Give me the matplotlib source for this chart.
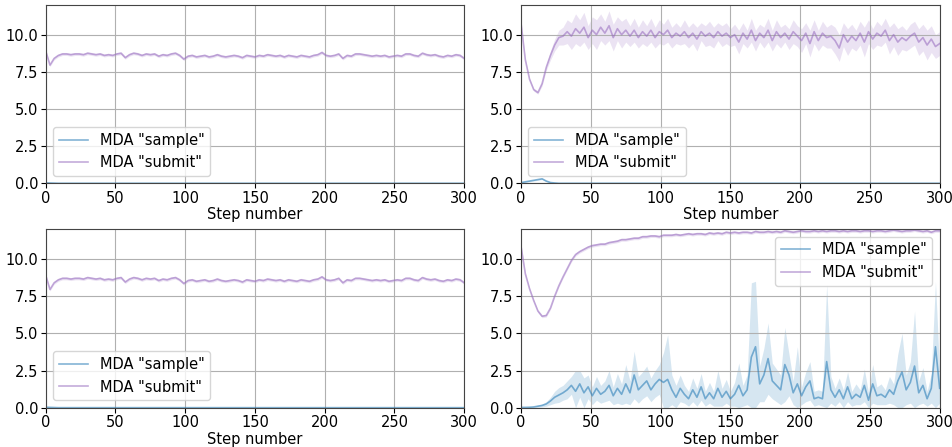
import matplotlib.pyplot as plt
import numpy as np

# values read every 3 steps (0, 3, ..., 300)
flat_submit = [8.9, 7.95, 8.4, 8.6, 8.7, 8.7, 8.65, 8.7, 8.7, 8.65, 8.75, 8.7, 8.65, 8.7, 8.6, 8.65, 8.6, 8.7, 8.75, 8.45,
               8.65, 8.75, 8.7, 8.6, 8.7, 8.65, 8.7, 8.55, 8.65, 8.6, 8.7, 8.75, 8.6, 8.35, 8.55, 8.6, 8.5, 8.55, 8.6, 8.5,
               8.55, 8.65, 8.55, 8.5, 8.55, 8.6, 8.55, 8.45, 8.6, 8.55, 8.5, 8.6, 8.55, 8.65, 8.6, 8.55, 8.6, 8.5, 8.6, 8.55,
               8.5, 8.6, 8.55, 8.5, 8.6, 8.65, 8.8, 8.6, 8.55, 8.6, 8.7, 8.4, 8.6, 8.55, 8.7, 8.7, 8.65, 8.6, 8.55, 8.6,
               8.55, 8.6, 8.5, 8.55, 8.6, 8.55, 8.7, 8.7, 8.6, 8.55, 8.75, 8.65, 8.6, 8.65, 8.55, 8.5, 8.6, 8.55, 8.65, 8.6,
               8.4]
flat_submit_spread = 0.1
flat_sample = [0.03, 0.02, 0.01] + [0.0] * 98

dip_submit = [10.7, 8.3, 7.0, 6.3, 6.1, 6.7, 7.8, 8.6, 9.3, 9.8, 9.9, 10.2, 9.9, 10.4, 10.1, 10.5, 9.8, 10.3, 10.0, 10.5,
              10.1, 10.6, 9.8, 10.4, 10.0, 10.3, 9.9, 10.3, 9.8, 10.2, 9.9, 10.3, 9.8, 10.2, 10.0, 10.3, 9.8, 10.1, 9.9, 10.2,
              9.8, 10.1, 9.7, 10.2, 9.9, 10.1, 9.8, 10.2, 9.9, 10.1, 9.8, 10.0, 9.5, 10.1, 9.7, 10.3, 9.6, 10.1, 9.8, 10.3,
              9.6, 10.2, 9.8, 10.1, 9.7, 10.2, 9.9, 9.6, 10.1, 9.4, 10.2, 9.6, 10.1, 9.8, 9.9, 9.6, 9.1, 10.0, 9.5, 9.9,
              9.6, 10.1, 9.5, 10.2, 9.7, 10.1, 9.9, 10.3, 9.6, 10.0, 9.5, 9.8, 9.6, 9.9, 10.1, 9.5, 9.8, 9.3, 9.7, 9.2,
              9.4]
dip_submit_spread = [0.05, 0.1, 0.1, 0.1, 0.1, 0.15, 0.2, 0.3, 0.4, 0.5, 0.6, 0.8, 0.9, 1.0, 0.9, 1.0, 0.8, 0.9, 1.0, 0.9,
                     0.8, 1.0, 0.9, 0.8, 0.9, 0.8, 0.7, 0.8, 0.7, 0.8, 0.7, 0.8, 0.7, 0.8, 0.7, 0.8, 0.7, 0.7, 0.6, 0.8,
                     0.7, 0.7, 0.8, 0.6, 0.7, 0.8, 0.7, 0.6, 0.7, 0.7, 0.6, 0.7, 0.8, 0.7, 0.6, 0.8, 0.7, 0.6, 0.7, 0.8,
                     0.7, 0.8, 0.7, 0.6, 0.7, 0.8, 0.7, 0.8, 0.7, 0.9, 0.8, 0.7, 0.8, 0.7, 0.8, 0.9, 0.9, 0.8, 0.9, 0.8,
                     0.7, 0.8, 1.0, 0.8, 0.7, 0.8, 0.7, 0.8, 0.9, 0.8, 0.9, 0.8, 0.7, 0.8, 0.8, 0.9, 0.9, 1.0, 0.9, 0.8,
                     0.8]
dip_sample = [0.05, 0.1, 0.15, 0.2, 0.25, 0.3, 0.15, 0.05, 0.02] + [0.0] * 92

rise_submit = [10.8, 9.0, 8.0, 7.2, 6.5, 6.15, 6.2, 6.7, 7.5, 8.2, 8.8, 9.35, 9.9, 10.3, 10.5, 10.65, 10.8, 10.9, 10.95, 11.0,
               11.0, 11.1, 11.15, 11.2, 11.3, 11.3, 11.35, 11.4, 11.4, 11.5, 11.5, 11.55, 11.55, 11.5, 11.6, 11.6, 11.6, 11.65, 11.6, 11.65,
               11.7, 11.65, 11.7, 11.7, 11.65, 11.75, 11.7, 11.75, 11.7, 11.8, 11.75, 11.8, 11.75, 11.8, 11.8, 11.75, 11.85, 11.8, 11.8, 11.85,
               11.8, 11.85, 11.8, 11.9, 11.85, 11.8, 11.85, 11.9, 11.85, 11.85, 11.9, 11.85, 11.9, 11.85, 11.9, 11.9, 11.85, 11.9, 11.85, 11.9,
               11.9, 11.85, 11.9, 11.9, 11.85, 11.9, 11.9, 11.85, 11.9, 11.95, 11.9, 11.85, 11.9, 11.9, 11.95, 11.9, 11.85, 11.9, 11.8, 11.9,
               11.9]
rise_submit_spread = 0.1
rise_sample = [0.02, 0.02, 0.03, 0.05, 0.1, 0.15, 0.25, 0.45, 0.7, 0.85, 1.0, 1.2, 1.5, 1.1, 1.6, 1.0, 1.4, 0.8, 1.3, 0.9,
               1.1, 1.5, 0.8, 1.3, 0.9, 1.6, 1.0, 2.2, 1.2, 1.5, 1.8, 1.2, 1.6, 1.9, 1.7, 1.9, 1.2, 0.7, 1.3, 0.9,
               0.6, 1.2, 0.7, 1.4, 0.6, 1.0, 0.6, 1.3, 0.7, 1.1, 0.6, 0.9, 1.5, 0.8, 1.2, 3.4, 4.1, 1.6, 2.2, 3.3,
               1.8, 1.5, 1.2, 2.9, 2.2, 1.0, 1.6, 0.8, 1.4, 1.8, 0.6, 0.7, 0.6, 3.1, 1.2, 0.7, 1.2, 0.6, 1.4, 0.6,
               0.9, 0.7, 1.5, 0.5, 1.6, 0.8, 0.9, 0.7, 1.2, 0.9, 1.8, 2.4, 1.2, 1.7, 2.8, 1.0, 1.5, 0.6, 1.3, 4.1,
               1.3]
rise_sample_spread = [0.02, 0.02, 0.03, 0.05, 0.08, 0.1, 0.15, 0.25, 0.4, 0.5, 0.5, 0.6, 0.6, 1.4, 0.9, 1.0, 0.8, 0.6, 0.8, 0.6,
                      0.7, 1.0, 0.6, 1.0, 0.7, 1.3, 0.8, 1.6, 0.9, 0.9, 1.0, 0.8, 0.9, 1.0, 2.0, 3.0, 1.0, 0.8, 0.9, 0.6,
                      0.5, 0.8, 0.6, 0.9, 0.5, 0.7, 0.5, 1.2, 0.6, 0.8, 0.5, 0.8, 1.5, 0.7, 1.0, 5.0, 4.4, 1.2, 1.8, 2.4,
                      1.2, 1.1, 1.0, 2.5, 1.4, 0.8, 2.5, 0.6, 1.0, 1.3, 0.5, 0.5, 0.5, 5.2, 0.9, 0.6, 0.8, 0.6, 1.0, 0.5,
                      0.7, 0.5, 1.1, 0.5, 1.3, 0.6, 0.7, 0.5, 0.9, 0.7, 1.8, 2.6, 1.0, 1.4, 3.7, 0.8, 1.2, 0.5, 1.0, 4.4,
                      1.0]

panels = [
    (flat_sample, 0.02, flat_submit, flat_submit_spread, 'lower left'),
    (dip_sample, 0.05, dip_submit, dip_submit_spread, 'lower left'),
    (flat_sample, 0.02, flat_submit, flat_submit_spread, 'lower left'),
    (rise_sample, rise_sample_spread, rise_submit, rise_submit_spread, 'upper right'),
]

fig, axes = plt.subplots(2, 2, figsize=(9.53, 4.47), dpi=100)
plt.subplots_adjust(left=0.048, right=0.986, bottom=0.088, top=0.989, wspace=0.136, hspace=0.258)

for ax, (sample, s_spread, submit, u_spread, loc) in zip(axes.flat, panels):
    for y, spread, color, label in [(sample, s_spread, '#1f77b4', 'MDA "sample"'),
                                    (submit, u_spread, '#9467bd', 'MDA "submit"')]:
        y = np.array(y)
        x = np.linspace(0, 300, len(y))
        lo = np.clip(y - np.array(spread), 0, None)
        hi = y + np.array(spread)
        ax.fill_between(x, lo, hi, color=color, alpha=0.18, linewidth=0)
        ax.plot(x, y, color=color, alpha=0.55, linewidth=1.2, label=label)
    ax.set_xlim(0, 300)
    ax.set_ylim(0, 12)
    ax.set_xticks(np.arange(0, 301, 50))
    ax.set_yticks([0, 2.5, 5, 7.5, 10])
    ax.grid(True, color='#b0b0b0', linewidth=0.8)
    ax.set_xlabel('Step number', fontsize=10.5, labelpad=1)
    ax.tick_params(labelsize=10.5, pad=2)
    for sp in ax.spines.values():
        sp.set_color('#444444')
    ax.legend(loc=loc, fontsize=10.5)

plt.savefig('out.png')
